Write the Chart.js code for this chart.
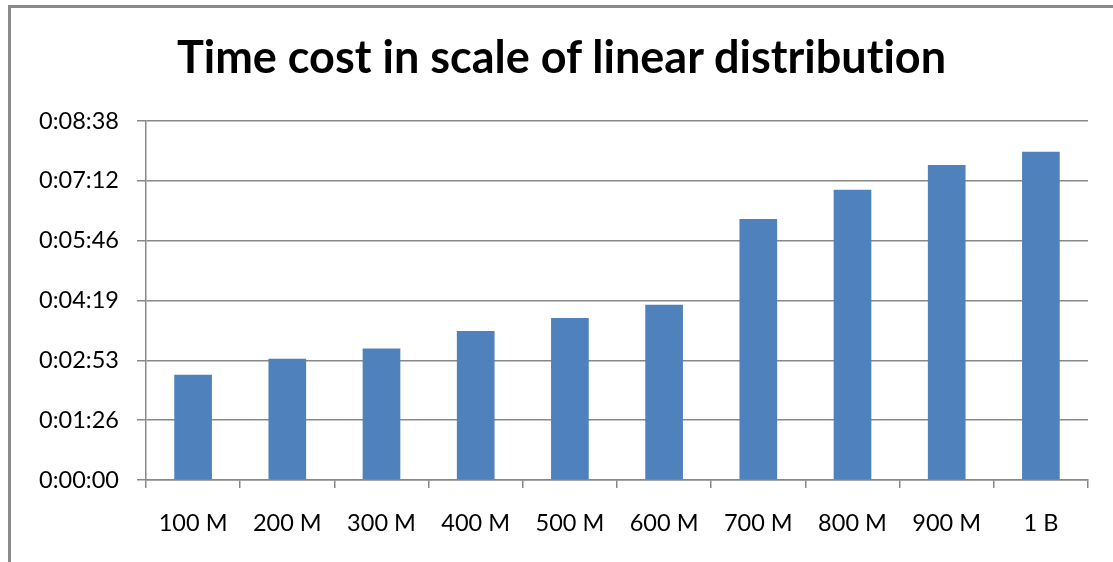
<!DOCTYPE html>
<html>
<head>
<meta charset="utf-8">
<title>Time cost in scale of linear distribution</title>
<script src="https://cdn.jsdelivr.net/npm/chart.js@4/dist/chart.umd.min.js"></script>
<style>
  html, body { margin: 0; padding: 0; background: #ffffff; }
  #wrap { position: relative; width: 1113px; height: 562px; overflow: hidden; }
  #frame {
    position: absolute; left: 8px; top: 5px; right: -10px; bottom: -10px;
    border-top: 3px solid #8a8a8a; border-left: 3px solid #8a8a8a;
    pointer-events: none;
  }
  canvas { position: absolute; left: 0; top: 0; font-variant-ligatures: none; }
</style>
</head>
<body>
<div id="wrap">
  <canvas id="chart" width="1113" height="562"></canvas>
  <div id="frame"></div>
</div>
<script>
// Data sizes processed
const categories = ['100 M', '200 M', '300 M', '400 M', '500 M', '600 M', '700 M', '800 M', '900 M', '1 B'];
// Elapsed time for each data size, in seconds
const timeCostSeconds = [152, 175, 190, 215, 234, 253, 377, 419, 455, 474];
// Axis: 0.001 day steps (86.4 s), up to 0.006 day
const axisStepSeconds = 86.4;
const axisMaxSeconds = 518.4;
const yTickLabels = ['0:00:00', '0:01:26', '0:02:53', '0:04:19', '0:05:46', '0:07:12', '0:08:38'];

function formatHMS(sec) {
  const s = Math.round(sec);
  const h = Math.floor(s / 3600);
  const m = Math.floor((s % 3600) / 60);
  const r = s % 60;
  return h + ':' + String(m).padStart(2, '0') + ':' + String(r).padStart(2, '0');
}

const axisGrey = '#888888';
const textFont = 'Lato, "Open Sans", "DejaVu Sans", sans-serif';
const chartTitle = 'Time cost in scale of linear distribution';

// Render text without ligatures (keeps "ti" as two glyphs)
const noLigatures = {
  id: 'noLigatures',
  beforeDraw(chart) {
    const ctx = chart.ctx;
    if ('textRendering' in ctx) ctx.textRendering = 'optimizeLegibility';
    if ('letterSpacing' in ctx) ctx.letterSpacing = '0.01px';
  }
};

new Chart(document.getElementById('chart'), {
  type: 'bar',
  data: {
    labels: categories,
    datasets: [{
      label: 'Time cost',
      data: timeCostSeconds,
      backgroundColor: '#4f81bd',
      borderWidth: 0,
      barPercentage: 0.4,
      categoryPercentage: 1.0
    }]
  },
  plugins: [noLigatures],
  options: {
    responsive: false,
    animation: false,
    devicePixelRatio: 1,
    layout: { padding: { top: 0, left: 35, right: 25, bottom: 0 } },
    plugins: {
      legend: { display: false },
      tooltip: { enabled: false },
      title: {
        display: true,
        text: chartTitle,
        color: '#000000',
        font: { family: textFont, size: 45, weight: 'bold', lineHeight: 1.2 },
        padding: { top: 31, bottom: 36 }
      }
    },
    scales: {
      x: {
        offset: true,
        grid: {
          display: true,
          offset: true,
          drawOnChartArea: false,
          drawTicks: true,
          tickLength: 8,
          color: axisGrey,
          lineWidth: 1.5
        },
        border: { display: true, color: axisGrey, width: 1.5 },
        ticks: {
          color: '#000000',
          font: { family: textFont, size: 23.5, lineHeight: 1.2 },
          padding: 21,
          maxRotation: 0,
          autoSkip: false
        },
        afterFit: (scale) => { scale.height = 82; }
      },
      y: {
        min: 0,
        max: axisMaxSeconds,
        grid: {
          color: axisGrey,
          lineWidth: 1.5,
          drawTicks: true,
          tickLength: 9
        },
        border: { display: true, color: axisGrey, width: 1.5 },
        ticks: {
          stepSize: axisStepSeconds,
          color: '#000000',
          font: { family: textFont, size: 23.5 },
          padding: 18,
          callback: (value, index) => yTickLabels[index] ?? formatHMS(value)
        },
        afterBuildTicks: (scale) => {
          scale.ticks = yTickLabels.map((_, i) => ({ value: i * axisStepSeconds }));
        },
        afterFit: (scale) => { scale.width = 111; }
      }
    }
  }
});
</script>
</body>
</html>
